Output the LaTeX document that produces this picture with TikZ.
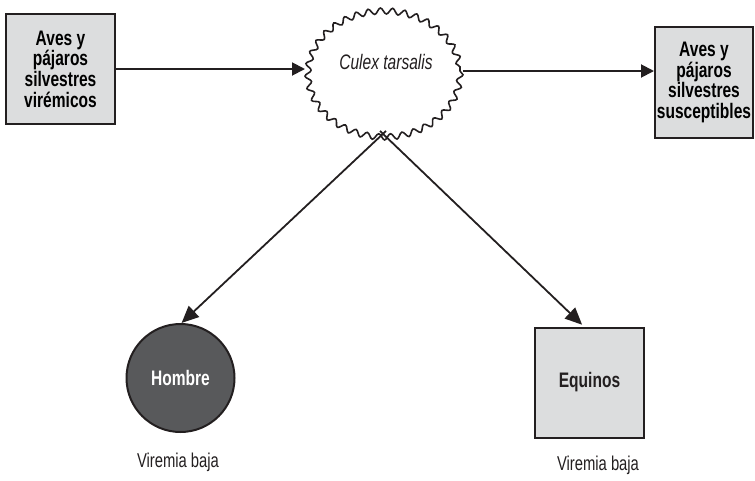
\documentclass[tikz,border=0pt]{standalone}
\usepackage{fontspec}
\setmainfont[FakeStretch=0.74]{Liberation Sans}
\usetikzlibrary{shapes.geometric,decorations.pathmorphing,arrows.meta}
\definecolor{ink}{HTML}{231F20}
\definecolor{boxgray}{HTML}{DCDDDE}
\definecolor{mandark}{HTML}{58595B}
\begin{document}
\begin{tikzpicture}[x=1pt,y=-1pt,
  boxnode/.style={draw=ink, fill=boxgray, line width=2.4pt, inner sep=0pt, outer sep=0pt,
    align=center, font=\bfseries\fontsize{21}{20.7}\selectfont},
  hostnode/.style={draw=ink, line width=2pt, inner sep=0pt, outer sep=0pt,
    font=\bfseries\fontsize{21}{20.7}\selectfont},
  caption/.style={font=\fontsize{20}{20}\selectfont, text=ink},
  flowarrow/.style={draw=ink, line width=1.9pt, -{Triangle[length=13pt,width=13pt]}},
  spreadarrow/.style={draw=ink, line width=1.8pt, -{Triangle[length=17pt,width=15pt]}},
  wavy/.style={draw=ink, fill=white, line width=1.6pt, decorate,
    decoration={snake, segment length=12pt, amplitude=3pt}}]
  \useasboundingbox (0,0) rectangle (755,480);

  % reservoir and susceptible birds
  \node[boxnode, minimum width=109, minimum height=110] (viremic) at (60.5,69)
    {Aves y\\pájaros\\silvestres\\virémicos};
  \node[boxnode, minimum width=98, minimum height=111] (suscept) at (704,82.5)
    {Aves y\\pájaros\\silvestres\\susceptibles};

  % mosquito vector
  \node[ellipse, minimum width=158, minimum height=132, inner sep=0pt, outer sep=0pt] (vector) at (384,71) {};
  \path[wavy] (vector.center) ellipse [x radius=76, y radius=63];
  \node[font=\itshape\fontsize{21}{20.7}\selectfont, text=ink] (vectorname) at (386,62) {Culex tarsalis};

  % dead-end hosts
  \node[hostnode, circle, fill=mandark, text=white, minimum size=108] (man) at (180.5,378) {Hombre};
  \node[hostnode, rectangle, fill=boxgray, text=ink, minimum width=109, minimum height=110] (horse) at (589.5,382.5) {Equinos};
  \node[caption] (mancap) at (178,462) {Viremia baja};
  \node[caption] (horsecap) at (598,465) {Viremia baja};

  % transmission
  \coordinate (outleft) at (386,131);
  \coordinate (outright) at (380,131);
  \draw[flowarrow] (viremic.east) -- (viremic.east -| vector.west);
  \draw[flowarrow] (vector.east) -- ([xshift=-1pt]vector.east -| suscept.west);
  \draw[spreadarrow, shorten >=1.5pt] (outleft) -- (man.north);
  \draw[spreadarrow, shorten >=4pt] (outright) -- ([xshift=-4.5pt]horse.north);
\end{tikzpicture}
\end{document}
